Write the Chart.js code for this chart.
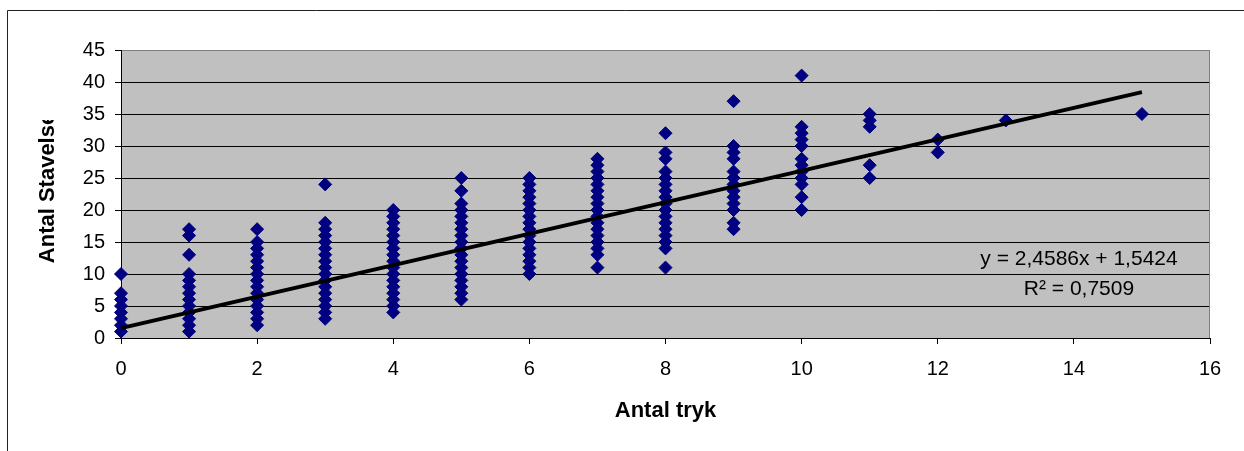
<!DOCTYPE html>
<html>
<head>
<meta charset="utf-8">
<script src="https://cdn.jsdelivr.net/npm/chart.js@4"></script>
<style>
  body { margin: 0; background: #fff; }
</style>
</head>
<body>
<canvas id="grafico" width="1244" height="451"></canvas>
<script>
// Antal tryk (x) og antal stavelser (y) - aflæst pr. søjle
const antalTryk = [0, 1, 2, 3, 4, 5, 6, 7, 8, 9, 10, 11, 12, 13, 15];
const stavelser = [
    [1, 2, 3, 4, 5, 6, 7, 10],
    [1, 2, 3, 4, 5, 6, 7, 8, 9, 10, 13, 16, 17],
    [2, 3, 4, 5, 6, 7, 8, 9, 10, 11, 12, 13, 14, 15, 17],
    [3, 4, 5, 6, 7, 8, 9, 10, 11, 12, 13, 14, 15, 16, 17, 18, 24],
    [4, 5, 6, 7, 8, 9, 10, 11, 12, 13, 14, 15, 16, 17, 18, 19, 20],
    [6, 7, 8, 9, 10, 11, 12, 13, 14, 15, 16, 17, 18, 19, 20, 21, 23, 25],
    [10, 11, 12, 13, 14, 15, 16, 17, 18, 19, 20, 21, 22, 23, 24, 25],
    [11, 13, 14, 15, 16, 17, 18, 19, 20, 21, 22, 23, 24, 25, 26, 27, 28],
    [11, 14, 15, 16, 17, 18, 19, 20, 21, 22, 23, 24, 25, 26, 28, 29, 32],
    [17, 18, 20, 21, 22, 23, 24, 25, 26, 28, 29, 30, 37],
    [20, 22, 24, 25, 26, 27, 28, 30, 31, 32, 33, 41],
    [25, 27, 33, 34, 35],
    [29, 31],
    [34],
    [35]
];

// Tendenslinje: y = 2,4586x + 1,5424
const trendX = [0, 15];
const trendY = [1.54, 38.42];
const ligning = 'y = 2,4586x + 1,5424';
const rKvadrat = 'R² = 0,7509';

const xTicks = { min: 0, max: 16, step: 2 };
const yTicks = { min: 0, max: 45, step: 5 };

// punkterne til scatter
let punkter = [];
for (let i = 0; i < antalTryk.length; i++) {
    stavelser[i].forEach(v => punkter.push({ x: antalTryk[i], y: v }));
}
let trendPunkter = trendX.map((x, i) => ({ x: x, y: trendY[i] }));

const fontNavn = "'Liberation Sans', Arial, sans-serif";

// baggrund, ramme, ligning og y-titel
const tegnPlugin = {
    id: 'tegn',
    beforeDraw(chart) {
        const c = chart.ctx;
        const a = chart.chartArea;
        c.save();
        c.fillStyle = '#fff';
        c.fillRect(0, 0, chart.width, chart.height);
        c.strokeStyle = '#222';
        c.lineWidth = 1;
        c.beginPath();
        c.moveTo(7.5, chart.height);
        c.lineTo(7.5, 10.5);
        c.lineTo(chart.width, 10.5);
        c.stroke();
        c.fillStyle = '#c0c0c0';
        c.fillRect(a.left, a.top, a.right - a.left, a.bottom - a.top);
        c.restore();
    },
    afterDraw(chart) {
        const c = chart.ctx;
        const a = chart.chartArea;
        c.save();
        c.strokeStyle = '#808080';
        c.lineWidth = 1;
        c.beginPath();
        c.moveTo(a.right - 0.5, a.top);
        c.lineTo(a.right - 0.5, a.bottom);
        c.stroke();

        c.fillStyle = '#000';
        c.font = '21px ' + fontNavn;
        c.textAlign = 'center';
        c.textBaseline = 'alphabetic';
        c.fillText(ligning, 1079, 265);
        c.fillText(rKvadrat, 1079, 295);

        // y-titel, afskåret foroven som i originalen
        c.beginPath();
        c.rect(20, 120, 60, 200);
        c.clip();
        c.translate(48, 188);
        c.rotate(-Math.PI / 2);
        c.font = 'bold 22px ' + fontNavn;
        c.textBaseline = 'middle';
        c.fillText('Antal Stavelse', 0, 0);
        c.restore();
    }
};

const ctx = document.getElementById('grafico');
new Chart(ctx, {
    type: 'scatter',
    data: {
        datasets: [{
            type: 'line',
            label: 'Lineær',
            data: trendPunkter,
            borderColor: '#000',
            borderWidth: 4,
            pointRadius: 0,
            fill: false,
            clip: false
        }, {
            label: 'Antal Stavelse',
            data: punkter,
            pointStyle: 'rectRot',
            pointRadius: 6.5,
            pointBorderWidth: 1,
            backgroundColor: '#000080',
            borderColor: '#000080',
            clip: false
        }]
    },
    options: {
        responsive: false,
        animation: false,
        devicePixelRatio: 1,
        layout: { padding: { top: 50, right: 34, left: 0, bottom: 0 } },
        plugins: {
            legend: { display: false },
            tooltip: { enabled: false }
        },
        scales: {
            x: {
                type: 'linear',
                min: xTicks.min,
                max: xTicks.max,
                ticks: { stepSize: xTicks.step, color: '#000', padding: 13, font: { family: fontNavn, size: 20 } },
                grid: { drawOnChartArea: false, drawTicks: true, tickLength: 6, color: '#000' },
                border: { color: '#000', width: 1 },
                title: { display: true, text: 'Antal tryk', color: '#000', font: { family: fontNavn, size: 22, weight: 'bold' }, padding: { top: 0, bottom: 27 } },
                afterFit: s => { s.height = 113; }
            },
            y: {
                type: 'linear',
                min: yTicks.min,
                max: yTicks.max,
                ticks: { stepSize: yTicks.step, color: '#000', padding: 10, font: { family: fontNavn, size: 20 } },
                grid: {
                    color: c => (c.tick && c.tick.value === 45 ? '#808080' : '#000'),
                    tickColor: '#000',
                    tickLength: 6,
                    lineWidth: 1
                },
                border: { color: '#000', width: 1 },
                afterFit: s => { s.width = 121; }
            }
        }
    },
    plugins: [tegnPlugin]
});
</script>
</body>
</html>
